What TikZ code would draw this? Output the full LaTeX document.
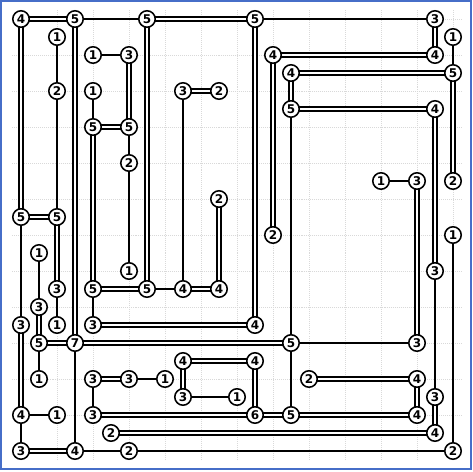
\documentclass[tikz,border=0pt]{standalone}
\usepackage{fontspec}
\usepackage{xcolor}
\usepackage{tikz}
\usetikzlibrary{backgrounds}
\newfontfamily\islandfont{DejaVu Sans}

\definecolor{frameblue}{RGB}{70,110,200}

\begin{document}
\begin{tikzpicture}[
    x=0.5cm, y=-0.5cm,
    island/.style={circle, draw=black, line width=1.25pt, fill=white, minimum size=13pt, inner sep=0pt, font=\islandfont\bfseries\fontsize{9.5}{10}\selectfont},
    bridge/.style={draw=black, line width=1.7pt},
    dbridge/.style={draw=black, line width=1.7pt, double=white, double distance=1.5pt},
    gridline/.style={draw=gray!30, line width=0.6pt, dash pattern=on 0.8pt off 0.8pt}
]
    \useasboundingbox (-1.1667,-1.0556) rectangle (25.111,25.1667);

    % Islands
    \node[island] (n0-0) at (0,0) {4};
    \node[island] (n3-0) at (3,0) {5};
    \node[island] (n7-0) at (7,0) {5};
    \node[island] (n13-0) at (13,0) {5};
    \node[island] (n23-0) at (23,0) {3};
    \node[island] (n2-1) at (2,1) {1};
    \node[island] (n24-1) at (24,1) {1};
    \node[island] (n4-2) at (4,2) {1};
    \node[island] (n6-2) at (6,2) {3};
    \node[island] (n14-2) at (14,2) {4};
    \node[island] (n23-2) at (23,2) {4};
    \node[island] (n15-3) at (15,3) {4};
    \node[island] (n24-3) at (24,3) {5};
    \node[island] (n2-4) at (2,4) {2};
    \node[island] (n4-4) at (4,4) {1};
    \node[island] (n9-4) at (9,4) {3};
    \node[island] (n11-4) at (11,4) {2};
    \node[island] (n15-5) at (15,5) {5};
    \node[island] (n23-5) at (23,5) {4};
    \node[island] (n4-6) at (4,6) {5};
    \node[island] (n6-6) at (6,6) {5};
    \node[island] (n6-8) at (6,8) {2};
    \node[island] (n20-9) at (20,9) {1};
    \node[island] (n22-9) at (22,9) {3};
    \node[island] (n24-9) at (24,9) {2};
    \node[island] (n11-10) at (11,10) {2};
    \node[island] (n0-11) at (0,11) {5};
    \node[island] (n2-11) at (2,11) {5};
    \node[island] (n14-12) at (14,12) {2};
    \node[island] (n24-12) at (24,12) {1};
    \node[island] (n1-13) at (1,13) {1};
    \node[island] (n6-14) at (6,14) {1};
    \node[island] (n23-14) at (23,14) {3};
    \node[island] (n2-15) at (2,15) {3};
    \node[island] (n4-15) at (4,15) {5};
    \node[island] (n7-15) at (7,15) {5};
    \node[island] (n9-15) at (9,15) {4};
    \node[island] (n11-15) at (11,15) {4};
    \node[island] (n1-16) at (1,16) {3};
    \node[island] (n0-17) at (0,17) {3};
    \node[island] (n2-17) at (2,17) {1};
    \node[island] (n4-17) at (4,17) {3};
    \node[island] (n13-17) at (13,17) {4};
    \node[island] (n1-18) at (1,18) {5};
    \node[island] (n3-18) at (3,18) {7};
    \node[island] (n15-18) at (15,18) {5};
    \node[island] (n22-18) at (22,18) {3};
    \node[island] (n9-19) at (9,19) {4};
    \node[island] (n13-19) at (13,19) {4};
    \node[island] (n1-20) at (1,20) {1};
    \node[island] (n4-20) at (4,20) {3};
    \node[island] (n6-20) at (6,20) {3};
    \node[island] (n8-20) at (8,20) {1};
    \node[island] (n16-20) at (16,20) {2};
    \node[island] (n22-20) at (22,20) {4};
    \node[island] (n9-21) at (9,21) {3};
    \node[island] (n12-21) at (12,21) {1};
    \node[island] (n23-21) at (23,21) {3};
    \node[island] (n0-22) at (0,22) {4};
    \node[island] (n2-22) at (2,22) {1};
    \node[island] (n4-22) at (4,22) {3};
    \node[island] (n13-22) at (13,22) {6};
    \node[island] (n15-22) at (15,22) {5};
    \node[island] (n22-22) at (22,22) {4};
    \node[island] (n5-23) at (5,23) {2};
    \node[island] (n23-23) at (23,23) {4};
    \node[island] (n0-24) at (0,24) {3};
    \node[island] (n3-24) at (3,24) {4};
    \node[island] (n6-24) at (6,24) {2};
    \node[island] (n24-24) at (24,24) {2};

    \begin{scope}[on background layer]
    % Dotted grid
    \draw[gridline] (-0.5,-0.5) grid (24.5,24.5);

    % Horizontal bridges
    \draw[dbridge] (n0-0.center) -- (n3-0.center);
    \draw[bridge] (n3-0.center) -- (n7-0.center);
    \draw[dbridge] (n7-0.center) -- (n13-0.center);
    \draw[bridge] (n13-0.center) -- (n23-0.center);
    \draw[bridge] (n4-2.center) -- (n6-2.center);
    \draw[dbridge] (n14-2.center) -- (n23-2.center);
    \draw[dbridge] (n15-3.center) -- (n24-3.center);
    \draw[dbridge] (n9-4.center) -- (n11-4.center);
    \draw[dbridge] (n15-5.center) -- (n23-5.center);
    \draw[dbridge] (n4-6.center) -- (n6-6.center);
    \draw[bridge] (n20-9.center) -- (n22-9.center);
    \draw[dbridge] (n0-11.center) -- (n2-11.center);
    \draw[dbridge] (n4-15.center) -- (n7-15.center);
    \draw[bridge] (n7-15.center) -- (n9-15.center);
    \draw[dbridge] (n9-15.center) -- (n11-15.center);
    \draw[dbridge] (n4-17.center) -- (n13-17.center);
    \draw[dbridge] (n1-18.center) -- (n3-18.center);
    \draw[dbridge] (n3-18.center) -- (n15-18.center);
    \draw[bridge] (n15-18.center) -- (n22-18.center);
    \draw[dbridge] (n9-19.center) -- (n13-19.center);
    \draw[dbridge] (n4-20.center) -- (n6-20.center);
    \draw[bridge] (n6-20.center) -- (n8-20.center);
    \draw[dbridge] (n16-20.center) -- (n22-20.center);
    \draw[bridge] (n9-21.center) -- (n12-21.center);
    \draw[bridge] (n0-22.center) -- (n2-22.center);
    \draw[dbridge] (n4-22.center) -- (n13-22.center);
    \draw[dbridge] (n13-22.center) -- (n15-22.center);
    \draw[dbridge] (n15-22.center) -- (n22-22.center);
    \draw[dbridge] (n5-23.center) -- (n23-23.center);
    \draw[dbridge] (n0-24.center) -- (n3-24.center);
    \draw[bridge] (n3-24.center) -- (n6-24.center);
    \draw[bridge] (n6-24.center) -- (n24-24.center);

    % Vertical bridges
    \draw[dbridge] (n0-0.center) -- (n0-11.center);
    \draw[bridge] (n0-11.center) -- (n0-17.center);
    \draw[dbridge] (n0-17.center) -- (n0-22.center);
    \draw[bridge] (n0-22.center) -- (n0-24.center);
    \draw[bridge] (n1-13.center) -- (n1-16.center);
    \draw[dbridge] (n1-16.center) -- (n1-18.center);
    \draw[bridge] (n1-18.center) -- (n1-20.center);
    \draw[bridge] (n2-1.center) -- (n2-4.center);
    \draw[bridge] (n2-4.center) -- (n2-11.center);
    \draw[dbridge] (n2-11.center) -- (n2-15.center);
    \draw[bridge] (n2-15.center) -- (n2-17.center);
    \draw[dbridge] (n3-0.center) -- (n3-18.center);
    \draw[bridge] (n3-18.center) -- (n3-24.center);
    \draw[bridge] (n4-4.center) -- (n4-6.center);
    \draw[dbridge] (n4-6.center) -- (n4-15.center);
    \draw[bridge] (n4-15.center) -- (n4-17.center);
    \draw[bridge] (n4-20.center) -- (n4-22.center);
    \draw[dbridge] (n6-2.center) -- (n6-6.center);
    \draw[bridge] (n6-6.center) -- (n6-8.center);
    \draw[bridge] (n6-8.center) -- (n6-14.center);
    \draw[dbridge] (n7-0.center) -- (n7-15.center);
    \draw[bridge] (n9-4.center) -- (n9-15.center);
    \draw[dbridge] (n9-19.center) -- (n9-21.center);
    \draw[dbridge] (n11-10.center) -- (n11-15.center);
    \draw[dbridge] (n13-0.center) -- (n13-17.center);
    \draw[dbridge] (n13-19.center) -- (n13-22.center);
    \draw[dbridge] (n14-2.center) -- (n14-12.center);
    \draw[dbridge] (n15-3.center) -- (n15-5.center);
    \draw[bridge] (n15-5.center) -- (n15-18.center);
    \draw[bridge] (n15-18.center) -- (n15-22.center);
    \draw[dbridge] (n22-9.center) -- (n22-18.center);
    \draw[dbridge] (n22-20.center) -- (n22-22.center);
    \draw[dbridge] (n23-0.center) -- (n23-2.center);
    \draw[dbridge] (n23-5.center) -- (n23-14.center);
    \draw[bridge] (n23-14.center) -- (n23-21.center);
    \draw[dbridge] (n23-21.center) -- (n23-23.center);
    \draw[bridge] (n24-1.center) -- (n24-3.center);
    \draw[dbridge] (n24-3.center) -- (n24-9.center);
    \draw[bridge] (n24-12.center) -- (n24-24.center);
    \end{scope}

    % Frame
    \draw[frameblue, line width=0.9pt] (-1.111,-1) rectangle (25,25);
\end{tikzpicture}
\end{document}
